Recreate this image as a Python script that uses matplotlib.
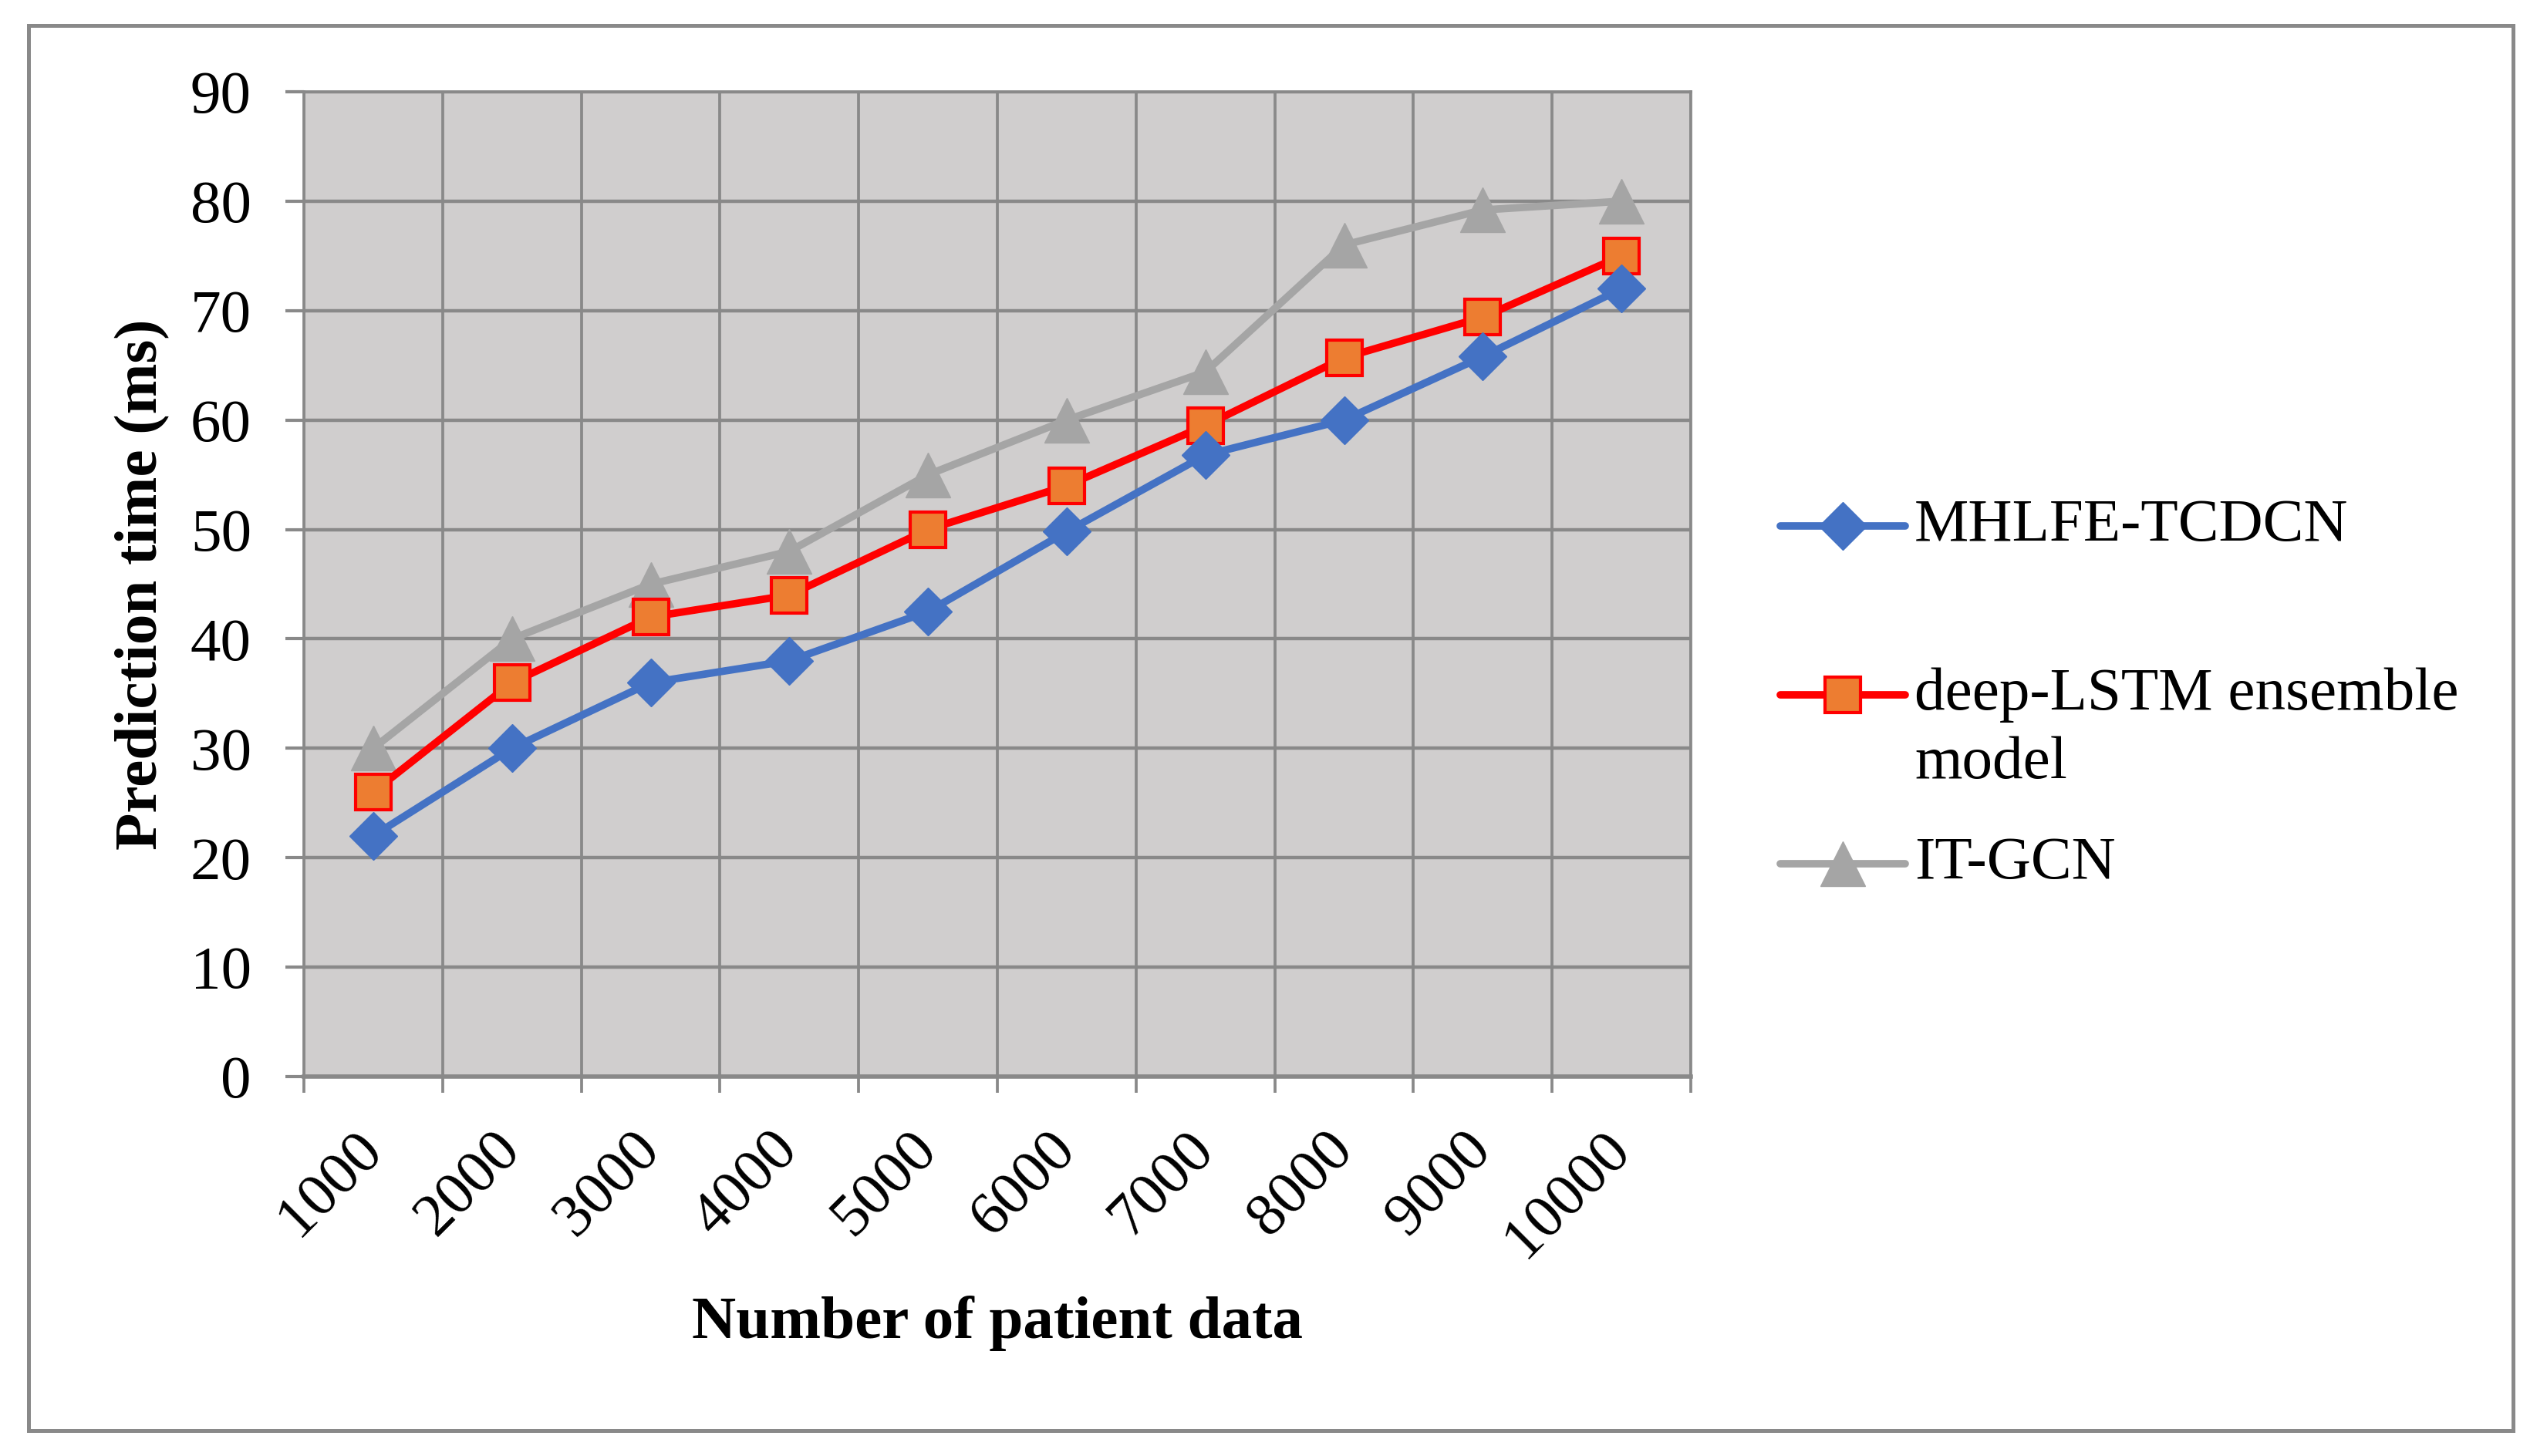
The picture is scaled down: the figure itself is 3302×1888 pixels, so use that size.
import matplotlib.pyplot as plt
from matplotlib.lines import Line2D
from matplotlib.patches import Rectangle

# data
patients = ['1000', '2000', '3000', '4000', '5000', '6000', '7000', '8000', '9000', '10000']
mhlfe = [22, 30, 36, 38, 42.5, 49.8, 56.8, 60, 65.8, 72]
deep_lstm = [26, 36, 42, 44, 50, 54, 59.5, 65.7, 69.4, 75]
it_gcn = [30, 40, 45, 48, 55, 60, 64.4, 76, 79.2, 80]
labels = ['MHLFE-TCDCN', 'deep-LSTM ensemble\nmodel', 'IT-GCN']

plt.rcParams['font.family'] = 'Liberation Serif'
FS = 57
GRID = '#898989'

fig = plt.figure(figsize=(33.02, 18.88), dpi=100)
ax = fig.add_axes([394 / 3302, 1 - 1396 / 1888, (2192 - 394) / 3302, (1396 - 119) / 1888])
ax.set_facecolor('#d0cece')

x = list(range(len(patients)))
styles = [
    dict(color='#4472c4', marker='D', markersize=32, markerfacecolor='#4472c4', markeredgecolor='#4472c4'),
    dict(color='#ff0000', marker='s', markersize=33, markerfacecolor='#ed7d31', markeredgecolor='#ff0000', markeredgewidth=3),
    dict(color='#a5a5a5', marker='^', markersize=42, markerfacecolor='#a5a5a5', markeredgecolor='#a5a5a5'),
]
series = [mhlfe, deep_lstm, it_gcn]
for vals, st in zip(series[::-1], styles[::-1]):
    ax.plot(x, vals, linewidth=7, zorder=3, **st)

ax.set_xlim(-0.5, len(patients) - 0.5)
ax.set_ylim(0, 90)
ax.set_yticks(range(0, 91, 10))
ax.set_xticks(x)
ax.set_xticklabels(patients, rotation=45, ha='right', va='center', rotation_mode='anchor')
ax.set_xticks([i - 0.5 for i in range(len(patients) + 1)], minor=True)

ax.tick_params(axis='y', direction='out', length=17, width=3, color=GRID, labelsize=FS, pad=32)
ax.tick_params(axis='x', which='major', length=0, labelsize=FS, pad=60)
ax.tick_params(axis='x', which='minor', direction='out', length=15, width=2.7, color=GRID)

ax.grid(True, axis='y', which='major', color=GRID, linewidth=3.2, zorder=1)
ax.grid(True, axis='x', which='minor', color=GRID, linewidth=2.7, zorder=1)
ax.set_axisbelow(True)
for side, sp in ax.spines.items():
    sp.set_color(GRID)
    sp.set_linewidth(2.7)
ax.spines['bottom'].set_linewidth(4)

fig.text(185 / 3302, 1 - 758 / 1888, 'Prediction time (ms)', rotation=90, fontsize=FS,
         fontweight='bold', ha='center', va='center')
fig.text(1293 / 3302, 1 - 1716 / 1888, 'Number of patient data', fontsize=FS,
         fontweight='bold', ha='center', va='center')

# legend drawn by hand so the handle sits on the first text line
leg_y = [682, 901, 1120]
for lab, st, yy in zip(labels, styles, leg_y):
    yf = 1 - yy / 1888
    fig.add_artist(Line2D([2308 / 3302, 2470 / 3302], [yf, yf], linewidth=7,
                          color=st['color'], solid_capstyle='round', transform=fig.transFigure))
    fig.add_artist(Line2D([2389 / 3302], [yf], linestyle='none', transform=fig.transFigure,
                          **{k: v for k, v in st.items() if k != 'color'}))
    for j, line in enumerate(lab.split('\n')):
        fig.text(2482 / 3302, 1 - (yy + j * 89) / 1888, line, fontsize=FS, ha='left', va='center')

fig.add_artist(Rectangle((37 / 3302, 1 - 1855 / 1888), (3258 - 37) / 3302, (1855 - 33) / 1888,
                         fill=False, edgecolor=GRID, linewidth=3.6, transform=fig.transFigure))

fig.savefig('out.png', dpi=100)
